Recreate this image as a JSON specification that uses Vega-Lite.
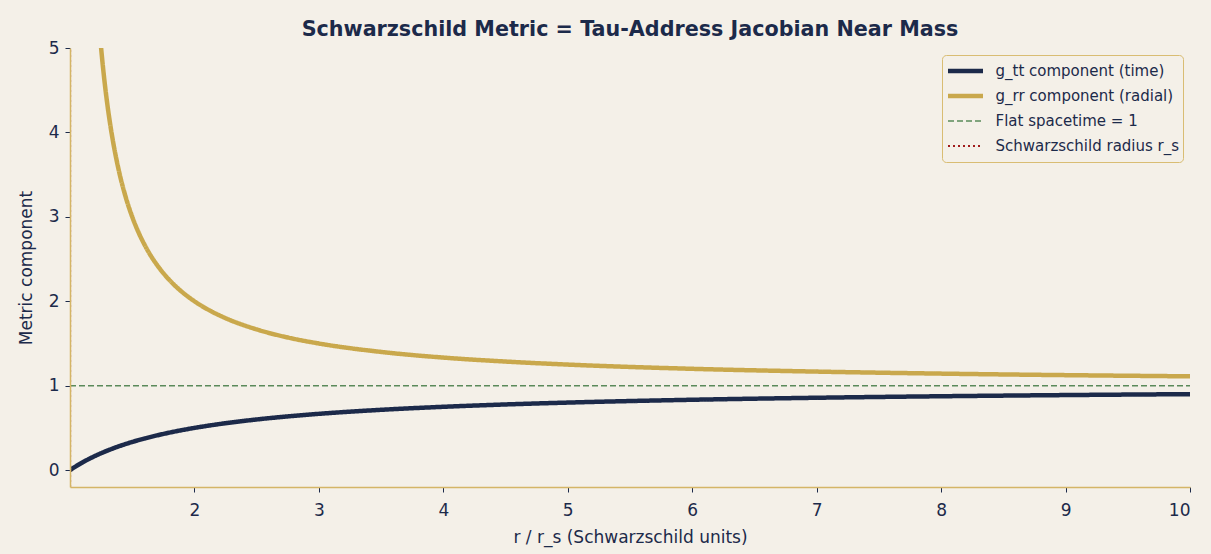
{
  "$schema": "https://vega.github.io/schema/vega-lite/v6.json",
  "width": 1120,
  "height": 439,
  "autosize": {"type": "none"},
  "padding": {"left": 70, "top": 48, "right": 21, "bottom": 67},
  "background": "#f4f0e8",
  "title": {
    "text": "Schwarzschild Metric = Tau-Address Jacobian Near Mass",
    "font": "DejaVu Sans",
    "fontSize": 20.7,
    "fontWeight": "bold",
    "color": "#1c2a4a",
    "anchor": "middle",
    "offset": -2
  },
  "config": {
    "view": {"stroke": null, "fill": "#f4f0e8"},
    "font": "DejaVu Sans"
  },
  "data": {
    "values": [
      {"r": 1.0, "v": 0, "s": "g_tt component (time)", "k": 0},
      {"r": 1.02, "v": 0.0196, "s": "g_tt component (time)", "k": 1},
      {"r": 1.05, "v": 0.0476, "s": "g_tt component (time)", "k": 2},
      {"r": 1.1, "v": 0.0909, "s": "g_tt component (time)", "k": 3},
      {"r": 1.15, "v": 0.1304, "s": "g_tt component (time)", "k": 4},
      {"r": 1.2, "v": 0.1667, "s": "g_tt component (time)", "k": 5},
      {"r": 1.25, "v": 0.2, "s": "g_tt component (time)", "k": 6},
      {"r": 1.3, "v": 0.2308, "s": "g_tt component (time)", "k": 7},
      {"r": 1.35, "v": 0.2593, "s": "g_tt component (time)", "k": 8},
      {"r": 1.4, "v": 0.2857, "s": "g_tt component (time)", "k": 9},
      {"r": 1.5, "v": 0.3333, "s": "g_tt component (time)", "k": 10},
      {"r": 1.6, "v": 0.375, "s": "g_tt component (time)", "k": 11},
      {"r": 1.7, "v": 0.4118, "s": "g_tt component (time)", "k": 12},
      {"r": 1.8, "v": 0.4444, "s": "g_tt component (time)", "k": 13},
      {"r": 1.9, "v": 0.4737, "s": "g_tt component (time)", "k": 14},
      {"r": 2.0, "v": 0.5, "s": "g_tt component (time)", "k": 15},
      {"r": 2.25, "v": 0.5556, "s": "g_tt component (time)", "k": 16},
      {"r": 2.5, "v": 0.6, "s": "g_tt component (time)", "k": 17},
      {"r": 2.75, "v": 0.6364, "s": "g_tt component (time)", "k": 18},
      {"r": 3.0, "v": 0.6667, "s": "g_tt component (time)", "k": 19},
      {"r": 3.5, "v": 0.7143, "s": "g_tt component (time)", "k": 20},
      {"r": 4.0, "v": 0.75, "s": "g_tt component (time)", "k": 21},
      {"r": 4.5, "v": 0.7778, "s": "g_tt component (time)", "k": 22},
      {"r": 5.0, "v": 0.8, "s": "g_tt component (time)", "k": 23},
      {"r": 6.0, "v": 0.8333, "s": "g_tt component (time)", "k": 24},
      {"r": 7.0, "v": 0.8571, "s": "g_tt component (time)", "k": 25},
      {"r": 8.0, "v": 0.875, "s": "g_tt component (time)", "k": 26},
      {"r": 9.0, "v": 0.8889, "s": "g_tt component (time)", "k": 27},
      {"r": 10.0, "v": 0.9, "s": "g_tt component (time)", "k": 28},
      {"r": 1.2, "v": 6.0, "s": "g_rr component (radial)", "k": 0},
      {"r": 1.225, "v": 5.444, "s": "g_rr component (radial)", "k": 1},
      {"r": 1.25, "v": 5.0, "s": "g_rr component (radial)", "k": 2},
      {"r": 1.275, "v": 4.636, "s": "g_rr component (radial)", "k": 3},
      {"r": 1.3, "v": 4.333, "s": "g_rr component (radial)", "k": 4},
      {"r": 1.325, "v": 4.077, "s": "g_rr component (radial)", "k": 5},
      {"r": 1.35, "v": 3.857, "s": "g_rr component (radial)", "k": 6},
      {"r": 1.375, "v": 3.667, "s": "g_rr component (radial)", "k": 7},
      {"r": 1.4, "v": 3.5, "s": "g_rr component (radial)", "k": 8},
      {"r": 1.45, "v": 3.222, "s": "g_rr component (radial)", "k": 9},
      {"r": 1.5, "v": 3.0, "s": "g_rr component (radial)", "k": 10},
      {"r": 1.55, "v": 2.818, "s": "g_rr component (radial)", "k": 11},
      {"r": 1.6, "v": 2.667, "s": "g_rr component (radial)", "k": 12},
      {"r": 1.65, "v": 2.538, "s": "g_rr component (radial)", "k": 13},
      {"r": 1.7, "v": 2.429, "s": "g_rr component (radial)", "k": 14},
      {"r": 1.8, "v": 2.25, "s": "g_rr component (radial)", "k": 15},
      {"r": 1.9, "v": 2.111, "s": "g_rr component (radial)", "k": 16},
      {"r": 2.0, "v": 2.0, "s": "g_rr component (radial)", "k": 17},
      {"r": 2.125, "v": 1.889, "s": "g_rr component (radial)", "k": 18},
      {"r": 2.25, "v": 1.8, "s": "g_rr component (radial)", "k": 19},
      {"r": 2.5, "v": 1.667, "s": "g_rr component (radial)", "k": 20},
      {"r": 2.75, "v": 1.571, "s": "g_rr component (radial)", "k": 21},
      {"r": 3.0, "v": 1.5, "s": "g_rr component (radial)", "k": 22},
      {"r": 3.5, "v": 1.4, "s": "g_rr component (radial)", "k": 23},
      {"r": 4.0, "v": 1.333, "s": "g_rr component (radial)", "k": 24},
      {"r": 4.5, "v": 1.286, "s": "g_rr component (radial)", "k": 25},
      {"r": 5.0, "v": 1.25, "s": "g_rr component (radial)", "k": 26},
      {"r": 6.0, "v": 1.2, "s": "g_rr component (radial)", "k": 27},
      {"r": 7.0, "v": 1.167, "s": "g_rr component (radial)", "k": 28},
      {"r": 8.0, "v": 1.143, "s": "g_rr component (radial)", "k": 29},
      {"r": 9.0, "v": 1.125, "s": "g_rr component (radial)", "k": 30},
      {"r": 10.0, "v": 1.111, "s": "g_rr component (radial)", "k": 31},
      {"r": 1.0, "v": 1, "s": "Flat spacetime = 1", "k": 0},
      {"r": 10.0, "v": 1, "s": "Flat spacetime = 1", "k": 1},
      {"r": 1.0, "v": -0.2, "s": "Schwarzschild radius r_s", "k": 0},
      {"r": 1.0, "v": 5, "s": "Schwarzschild radius r_s", "k": 1}
    ]
  },
  "mark": {"type": "line", "clip": true, "strokeCap": "butt", "interpolate": "monotone"},
  "encoding": {
    "x": {
      "field": "r",
      "type": "quantitative",
      "scale": {"domain": [1, 10], "nice": false, "zero": false},
      "axis": {
        "title": "r / r_s (Schwarzschild units)",
        "values": [2, 3, 4, 5, 6, 7, 8, 9, 10],
        "grid": false,
        "zindex": 1,
        "domainColor": "#d4b566",
        "domainWidth": 1.5,
        "tickColor": "#1c2a4a",
        "tickSize": 5,
        "labelFontSize": 17,
        "labelColor": "#1c2a4a",
        "labelPadding": 10,
        "titleFontSize": 17,
        "titleFontWeight": "normal",
        "titleColor": "#1c2a4a",
        "titlePadding": 11
      }
    },
    "y": {
      "field": "v",
      "type": "quantitative",
      "scale": {"domain": [-0.2, 5], "nice": false, "zero": false},
      "axis": {
        "title": "Metric component",
        "values": [0, 1, 2, 3, 4, 5],
        "grid": false,
        "zindex": 1,
        "domainColor": "#d4b566",
        "domainWidth": 1.5,
        "tickColor": "#1c2a4a",
        "tickSize": 5,
        "labelFontSize": 17,
        "labelColor": "#1c2a4a",
        "labelPadding": 6,
        "titleFontSize": 17,
        "titleFontWeight": "normal",
        "titleColor": "#1c2a4a",
        "titlePadding": 13
      }
    },
    "order": {"field": "k", "type": "quantitative"},
    "color": {
      "field": "s",
      "type": "nominal",
      "scale": {
        "domain": ["g_tt component (time)", "g_rr component (radial)", "Flat spacetime = 1", "Schwarzschild radius r_s"],
        "range": ["#1c2a4a", "#c9a84c", "#5a8a5a", "#a01c1c"]
      },
      "legend": {
        "title": null,
        "orient": "top-right",
        "offset": 7,
        "symbolType": "stroke",
        "symbolSize": 1225,
        "clipHeight": 25,
        "labelFontSize": 15,
        "labelColor": "#1c2a4a",
        "labelLimit": 300,
        "labelOffset": 10,
        "rowPadding": 0,
        "fillColor": "#f4f0e8",
        "strokeColor": "#d9bd73",
        "cornerRadius": 4,
        "padding": 3.5
      }
    },
    "strokeDash": {
      "field": "s",
      "type": "nominal",
      "scale": {
        "domain": ["g_tt component (time)", "g_rr component (radial)", "Flat spacetime = 1", "Schwarzschild radius r_s"],
        "range": [[1, 0], [1, 0], [6, 3], [2, 3]]
      },
      "legend": {"title": null}
    },
    "strokeWidth": {
      "field": "s",
      "type": "nominal",
      "scale": {
        "type": "ordinal",
        "domain": ["g_tt component (time)", "g_rr component (radial)", "Flat spacetime = 1", "Schwarzschild radius r_s"],
        "range": [4.5, 4.5, 1.5, 2.2]
      },
      "legend": {"title": null}
    }
  }
}
